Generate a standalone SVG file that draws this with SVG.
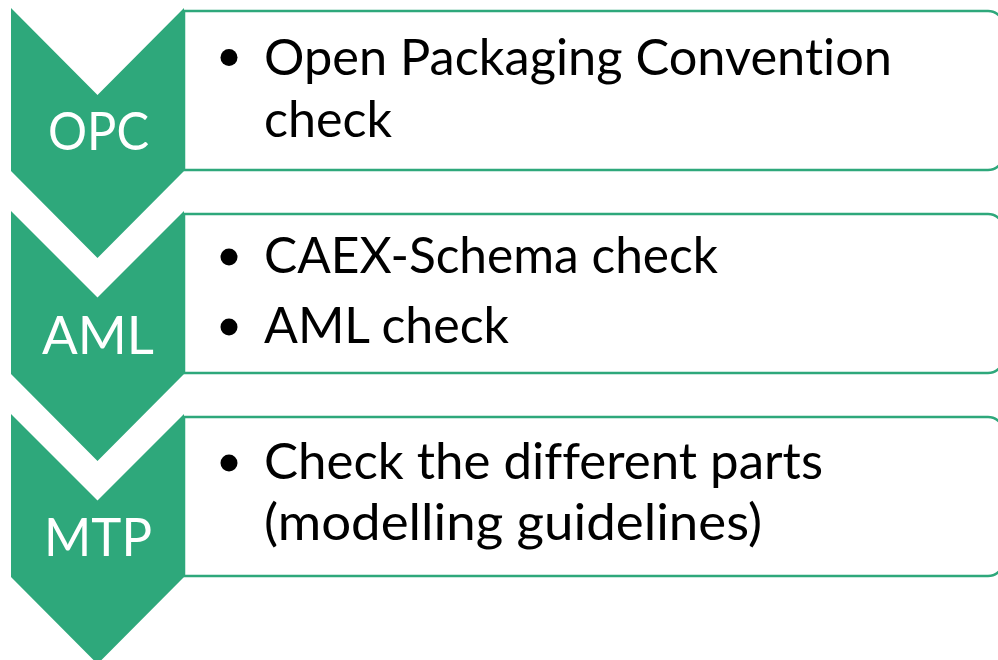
<svg xmlns="http://www.w3.org/2000/svg" width="998" height="660" viewBox="0 0 998 660">
  <style>
    .chev { fill: #2ea87b; }
    .box { fill: #ffffff; stroke: #2ea87b; stroke-width: 2.5; }
    .label { font-family: Lato, "Open Sans", "Liberation Sans", sans-serif; font-size: 53px; fill: #ffffff; text-anchor: middle; font-variant-ligatures: none; }
    .item { font-family: Lato, "Open Sans", "Liberation Sans", sans-serif; font-size: 49.5px; fill: #000000; font-variant-ligatures: none; }
    .bullet { fill: #000000; }
  </style>
  <rect width="998" height="660" fill="#ffffff"/>

  <!-- step 1: OPC -->
  <g id="step-opc">
    <path class="box" d="M184 11 H988 A16 16 0 0 1 1004 27 V154 A16 16 0 0 1 988 170 H184 Z"/>
    <polygon class="chev" points="11,8 97.5,95 184,8 184,171 97.5,258 11,171"/>
    <text class="label" x="98.5" y="150" textLength="101" lengthAdjust="spacingAndGlyphs">OPC</text>
    <circle class="bullet" cx="229" cy="57.5" r="8.5"/>
    <text class="item" x="264" y="75" textLength="628" lengthAdjust="spacingAndGlyphs">Open Packaging Convention</text>
    <text class="item" x="264" y="137" textLength="128" lengthAdjust="spacingAndGlyphs">check</text>
  </g>

  <!-- step 2: AML -->
  <g id="step-aml">
    <path class="box" d="M184 214 H988 A16 16 0 0 1 1004 230 V357 A16 16 0 0 1 988 373 H184 Z"/>
    <polygon class="chev" points="11,211 97.5,297.5 184,211 184,374 97.5,461 11,374"/>
    <text class="label" x="98" y="354" textLength="112" lengthAdjust="spacingAndGlyphs">AML</text>
    <circle class="bullet" cx="229" cy="257" r="8.5"/>
    <text class="item" x="264" y="273" textLength="454" lengthAdjust="spacingAndGlyphs">CAEX-Schema check</text>
    <circle class="bullet" cx="229" cy="327" r="8.5"/>
    <text class="item" x="264" y="343" textLength="245" lengthAdjust="spacingAndGlyphs">AML check</text>
  </g>

  <!-- step 3: MTP -->
  <g id="step-mtp">
    <path class="box" d="M184 417 H988 A16 16 0 0 1 1004 433 V560 A16 16 0 0 1 988 576 H184 Z"/>
    <polygon class="chev" points="11,414 97.5,500.5 184,414 184,577 97.5,664 11,577"/>
    <text class="label" x="98" y="556" textLength="108" lengthAdjust="spacingAndGlyphs">MTP</text>
    <circle class="bullet" cx="229" cy="463" r="8.5"/>
    <text class="item" x="264" y="479" textLength="559" lengthAdjust="spacingAndGlyphs">Check the different parts</text>
    <text class="item" x="264" y="540" textLength="498" lengthAdjust="spacingAndGlyphs">(modelling guidelines)</text>
  </g>

  <g id="connectors"/>
</svg>
